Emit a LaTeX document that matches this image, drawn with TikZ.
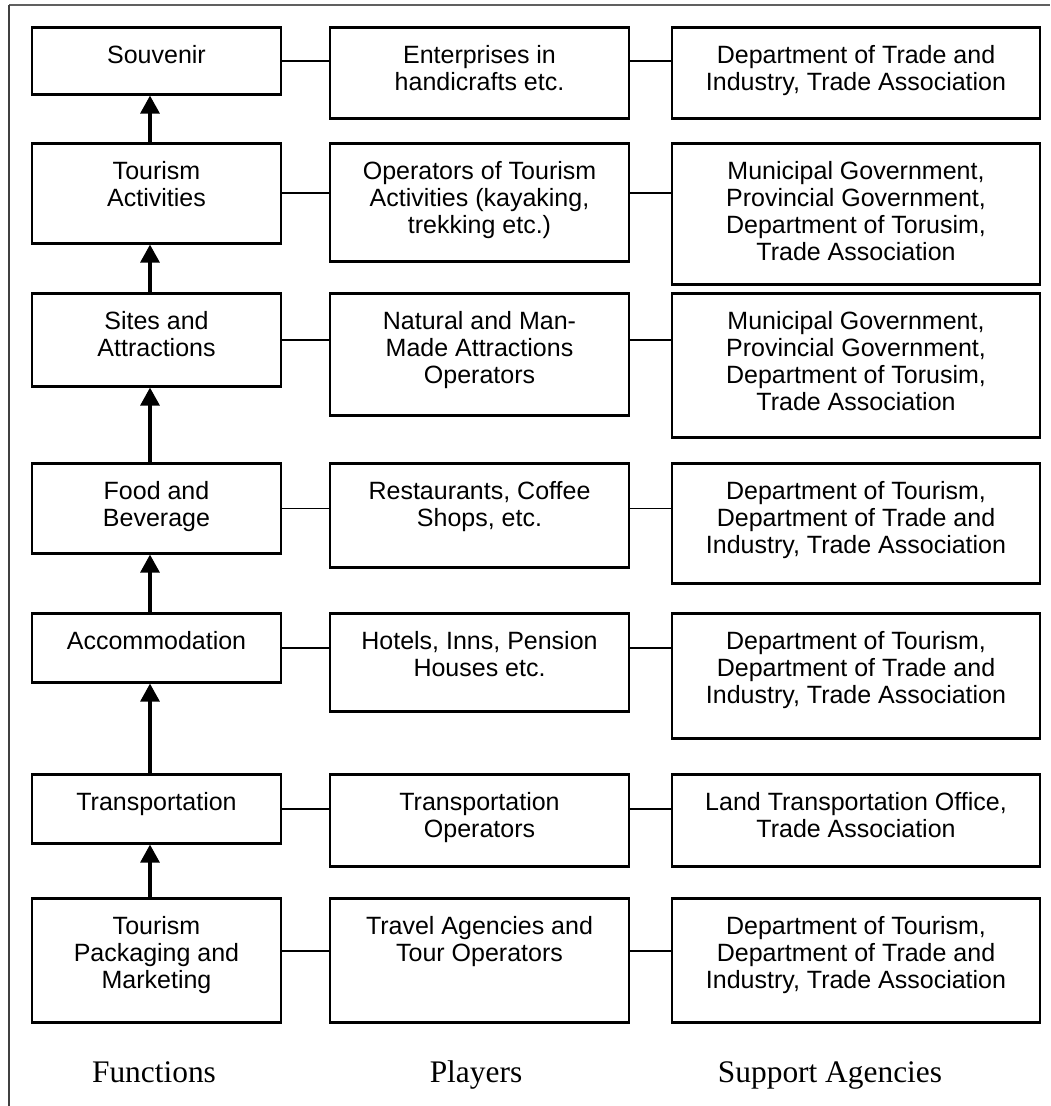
\documentclass[tikz,border=0pt]{standalone}
\usepackage{fontspec}
\setmainfont{Liberation Serif}
\newfontfamily\chartsans{Liberation Sans}
\usetikzlibrary{arrows.meta}

\begin{document}
\begin{tikzpicture}[x=0.5pt,y=-0.5pt,
    cell/.style={draw,line width=1.3pt,anchor=north,inner sep=0pt},
    celltext/.style={anchor=north,yshift=-9.5pt,align=center,inner sep=0pt,font=\chartsans\fontsize{12.5}{13.5}\selectfont},
    fcell/.style={cell,minimum width=124.5pt},
    pcell/.style={cell,minimum width=149.5pt},
    scell/.style={cell,minimum width=184pt},
    link/.style={line width=1.1pt},
    thinlink/.style={line width=0.75pt},
    up/.style={-{Triangle[width=9.5pt,length=9pt]},line width=1.6pt},
    colname/.style={anchor=base,font=\fontsize{15.7}{18}\selectfont}]
    \useasboundingbox (0,0) rectangle (1050,1106);
    % ===== frame =====
    \draw[gray!75!black,line width=1pt] (9,5) -- (1050,5);
    \draw[gray!50!black,line width=0.7pt] (9,5) -- (9,1106);
    % ===== Row 1: Souvenir =====
    \node[fcell,minimum height=33.5pt,label={[celltext]north:Souvenir}] (f1) at (156.5,26) {};
    \node[pcell,minimum height=45.5pt,label={[celltext]north:{Enterprises in\\handicrafts etc.}}] (p1) at (479.5,26) {};
    \node[scell,minimum height=45.5pt,label={[celltext]north:{Department of Trade and\\Industry, Trade Association}}] (s1) at (856,26) {};
    % ===== Row 2: Tourism Activities =====
    \node[fcell,minimum height=50pt,label={[celltext]north:{Tourism\\Activities}}] (f2) at (156.5,142) {};
    \node[pcell,minimum height=59pt,label={[celltext]north:{Operators of Tourism\\Activities (kayaking,\\trekking etc.)}}] (p2) at (479.5,142) {};
    \node[scell,minimum height=70.5pt,label={[celltext]north:{Municipal Government,\\Provincial Government,\\Department of Torusim,\\Trade Association}}] (s2) at (856,142) {};
    % ===== Row 3: Sites and Attractions =====
    \node[fcell,minimum height=46.5pt,label={[celltext]north:{Sites and\\Attractions}}] (f3) at (156.5,292) {};
    \node[pcell,minimum height=61pt,label={[celltext]north:{Natural and Man-\\Made Attractions\\Operators}}] (p3) at (479.5,292) {};
    \node[scell,minimum height=72pt,label={[celltext]north:{Municipal Government,\\Provincial Government,\\Department of Torusim,\\Trade Association}}] (s3) at (856,292) {};
    % ===== Row 4: Food and Beverage =====
    \node[fcell,minimum height=45pt,label={[celltext]north:{Food and\\Beverage}}] (f4) at (156.5,462) {};
    \node[pcell,minimum height=52pt,label={[celltext]north:{Restaurants, Coffee\\Shops, etc.}}] (p4) at (479.5,462) {};
    \node[scell,minimum height=60pt,label={[celltext]north:{Department of Tourism,\\Department of Trade and\\Industry, Trade Association}}] (s4) at (856,462) {};
    % ===== Row 5: Accommodation =====
    \node[fcell,minimum height=34.5pt,label={[celltext]north:Accommodation}] (f5) at (156.5,612) {};
    \node[pcell,minimum height=49pt,label={[celltext]north:{Hotels, Inns, Pension\\Houses etc.}}] (p5) at (479.5,612) {};
    \node[scell,minimum height=62.5pt,label={[celltext]north:{Department of Tourism,\\Department of Trade and\\Industry, Trade Association}}] (s5) at (856,612) {};
    % ===== Row 6: Transportation =====
    \node[fcell,minimum height=34.5pt,label={[celltext]north:Transportation}] (f6) at (156.5,773) {};
    \node[pcell,minimum height=46pt,label={[celltext]north:{Transportation\\Operators}}] (p6) at (479.5,773) {};
    \node[scell,minimum height=46pt,label={[celltext]north:{Land Transportation Office,\\Trade Association}}] (s6) at (856,773) {};
    % ===== Row 7: Tourism Packaging and Marketing =====
    \node[fcell,minimum height=62pt,label={[celltext]north:{Tourism\\Packaging and\\Marketing}}] (f7) at (156.5,897) {};
    \node[pcell,minimum height=62pt,label={[celltext]north:{Travel Agencies and\\Tour Operators}}] (p7) at (479.5,897) {};
    \node[scell,minimum height=62pt,label={[celltext]north:{Department of Tourism,\\Department of Trade and\\Industry, Trade Association}}] (s7) at (856,897) {};
    % ===== links to players and agencies =====
    \draw[link] (f1.east) -- (f1.east -| p1.west);
    \draw[link] (f1.east -| p1.east) -- (f1.east -| s1.west);
    \draw[link] (f2.east) -- (f2.east -| p2.west);
    \draw[link] (f2.east -| p2.east) -- (f2.east -| s2.west);
    \draw[thinlink] (f3.east) -- (f3.east -| p3.west);
    \draw[thinlink] (f3.east -| p3.east) -- (f3.east -| s3.west);
    \draw[thinlink] (f4.east) -- (f4.east -| p4.west);
    \draw[thinlink] (f4.east -| p4.east) -- (f4.east -| s4.west);
    \draw[link] (f5.east) -- (f5.east -| p5.west);
    \draw[link] (f5.east -| p5.east) -- (f5.east -| s5.west);
    \draw[link] (f6.east) -- (f6.east -| p6.west);
    \draw[link] (f6.east -| p6.east) -- (f6.east -| s6.west);
    \coordinate (r7) at ([yshift=4.5pt]f7.east);
    \draw[link] (r7) -- (r7 -| p7.west);
    \draw[link] (r7 -| p7.east) -- (r7 -| s7.west);
    % ===== value chain arrows =====
    \draw[up] ([xshift=-3.25pt]f7.north) -- ([xshift=-3.25pt]f6.south);
    \draw[up] ([xshift=-3.25pt]f6.north) -- ([xshift=-3.25pt]f5.south);
    \draw[up] ([xshift=-3.25pt]f5.north) -- ([xshift=-3.25pt]f4.south);
    \draw[up] ([xshift=-3.25pt]f4.north) -- ([xshift=-3.25pt]f3.south);
    \draw[up] ([xshift=-3.25pt]f3.north) -- ([xshift=-3.25pt]f2.south);
    \draw[up] ([xshift=-3.25pt]f2.north) -- ([xshift=-3.25pt]f1.south);
    % ===== column names =====
    \node[colname] (fn) at (154,1082) {Functions};
    \node[colname] (pl) at (476,1082) {Players};
    \node[colname] (sa) at (830,1082) {Support Agencies};
\end{tikzpicture}
\end{document}
